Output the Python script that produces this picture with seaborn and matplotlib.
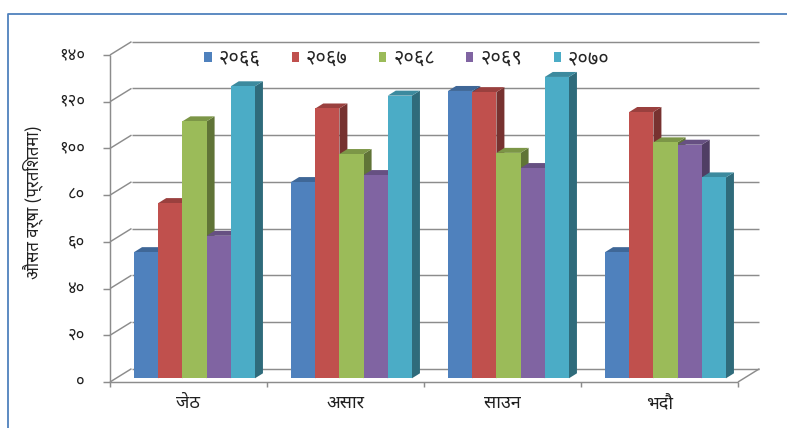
import numpy as np
import pandas as pd
import matplotlib
matplotlib.use("Agg")
import matplotlib.pyplot as plt
import seaborn as sns
from matplotlib.patches import Polygon, Patch
from matplotlib.lines import Line2D
from matplotlib.transforms import IdentityTransform

# ---- data -------------------------------------------------------------
months = ["जेठ", "असार", "साउन", "भदौ"]
years = ["२०६६", "२०६७", "२०६८", "२०६९", "२०७०"]
v2066 = [54, 84, 123, 54]
v2067 = [75, 115.5, 122.5, 114]
v2068 = [110, 96, 96.5, 101]
v2069 = [61, 87, 90, 100]
v2070 = [125, 121, 129, 86]
ytick_values = [0, 20, 40, 60, 80, 100, 120, 140]
ytick_labels = ["०", "२०", "४०", "६०", "८०", "१००", "१२०", "१४०"]
ylabel = "औसत वर्षा (प्रतिशतमा)"
colors = ["#4F81BD", "#C0504D", "#9BBB59", "#8064A2", "#4BACC6"]

df = pd.DataFrame({
    "month": months * len(years),
    "year": np.repeat(years, len(months)),
    "value": v2066 + v2067 + v2068 + v2069 + v2070,
})

# ---- style ------------------------------------------------------------
sns.set_theme(style="white")
FONT = ["Noto Sans Devanagari", "DejaVu Sans"]
plt.rcParams["font.family"] = FONT

W, H = 787, 428
fig = plt.figure(figsize=(W / 100, H / 100), dpi=100)

# pixel layout of the bar plane: x=-0.5 sits at X0, one category spans XU px;
# y=0 sits at Y0 (from top), YU px per unit
X0, XU = 116.0, 157.0
Y0, YU = 378.3, 2.336
xlim = (-0.6, 3.6)
ylim = (-12, 150)
left = X0 + (xlim[0] + 0.5) * XU
right = X0 + (xlim[1] + 0.5) * XU
top = Y0 - ylim[1] * YU
bottom = Y0 - ylim[0] * YU
ax = fig.add_axes([left / W, 1 - bottom / H, (right - left) / W, (bottom - top) / H])

sns.barplot(data=df, x="month", y="value", hue="year", hue_order=years,
            order=months, palette=colors, saturation=1, width=0.77,
            linewidth=0, legend=False, errorbar=None, ax=ax)
ax.set_xlim(*xlim)
ax.set_ylim(*ylim)
ax.axis("off")

# 3-D look: front wall offset from the bar plane, and wall / bar depth vectors
FRONT = (-6.0, -3.7)
DEPTH = (21.5, 13.3)
BAR_DEPTH = (8.0, 5.0)
ident = IdentityTransform()


def disp(x, y, depth=0.0):
    X, Y = ax.transData.transform((x, y))
    return (X + FRONT[0] + depth * DEPTH[0], Y + FRONT[1] + depth * DEPTH[1])


def seg(p, q, color="#8C8C8C", lw=1.05, z=0.2):
    ax.add_line(Line2D([p[0], q[0]], [p[1], q[1]], color=color, lw=lw,
                       transform=ident, zorder=z, solid_capstyle="butt",
                       clip_on=False))


cat_lo, cat_hi = -0.5, len(months) - 0.5
for v in ytick_values:
    # back-wall gridline and its diagonal on the side wall
    seg(disp(cat_lo, v, 1), disp(cat_hi, v, 1))
    seg(disp(cat_lo, v, 0), disp(cat_lo, v, 1))
    # tick on the front vertical axis
    p = disp(cat_lo, v, 0)
    seg((p[0] - 7, p[1]), p, z=3)

# front vertical axis and floor edges
seg(disp(cat_lo, 0), disp(cat_lo, ytick_values[-1]), z=3)
seg(disp(cat_lo, 0), disp(cat_hi, 0), z=3)
seg(disp(cat_hi, 0, 0), disp(cat_hi, 0, 1), z=3)
for c in np.arange(cat_lo, cat_hi + 0.01, 1.0):
    p = disp(c, 0)
    seg(p, (p[0], p[1] - 5), z=3)

# side and top faces of each bar, built from the bar rectangles
bars = [p for p in ax.patches if p.get_height() > 0]
for p in bars:
    x0, w, h = p.get_x(), p.get_width(), p.get_height()
    Xl, Yb = ax.transData.transform((x0, 0))
    Xr, Yt = ax.transData.transform((x0 + w, h))
    rgb = np.array(p.get_facecolor()[:3])
    dx, dy = BAR_DEPTH
    side = Polygon([(Xr, Yb), (Xr + dx, Yb + dy), (Xr + dx, Yt + dy), (Xr, Yt)],
                   closed=True, transform=ident, facecolor=rgb * 0.62,
                   edgecolor="none", zorder=0.6)
    topf = Polygon([(Xl, Yt), (Xr, Yt), (Xr + dx, Yt + dy), (Xl + dx, Yt + dy)],
                   closed=True, transform=ident, facecolor=rgb * 0.8,
                   edgecolor="none", zorder=0.8)
    ax.add_patch(side)
    ax.add_patch(topf)
    p.set_zorder(1.0)

# tick labels
for v, lab in zip(ytick_values, ytick_labels):
    X, Y = disp(cat_lo, v)
    fig.text(85 / W, Y / H, lab, ha="right", va="center", fontsize=12,
             color="#202020")
for i, m in enumerate(months):
    X, Y = disp(i, 0)
    fig.text(X / W, (Y - 21) / H, m, ha="center", va="center", fontsize=13,
             color="#202020")

fig.text(33 / W, 1 - 202 / H, ylabel, rotation=90, ha="center", va="center",
         fontsize=12, color="#202020")

# legend
handles = [Patch(facecolor=c, edgecolor="none") for c in colors]
fig.legend(handles, years, loc="center", bbox_to_anchor=(407 / W, 1 - 59 / H),
           ncol=5, frameon=False, fontsize=14.5, handlelength=0.36,
           handleheight=0.36, handletextpad=0.35, columnspacing=1.55,
           borderaxespad=0)

# chart-area border (top and left edges)
fig.add_artist(Line2D([8 / W, 8 / W, 1.0], [0.0, 1 - 14 / H, 1 - 14 / H],
                      transform=fig.transFigure, color="#4F81BD", lw=1.3))

fig.savefig("out.png", dpi=100)
